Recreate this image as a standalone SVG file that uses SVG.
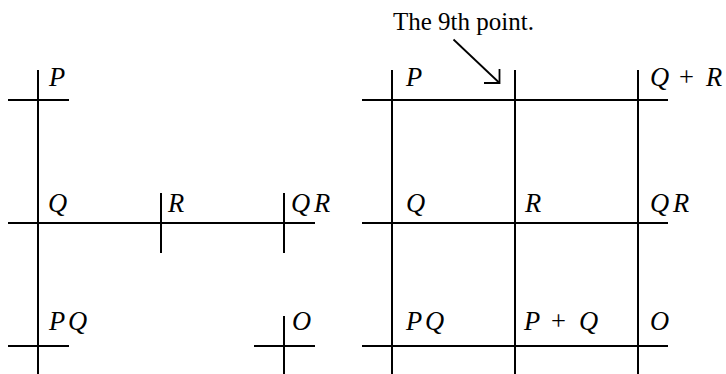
<svg xmlns="http://www.w3.org/2000/svg" width="726" height="374" viewBox="0 0 726 374">
<style>
.ln{stroke:#000;stroke-width:2;fill:none}
.ar{stroke:#000;stroke-width:1.8;fill:none}
.lb{font-family:"Liberation Serif","Times New Roman",serif;font-style:italic;font-size:26.5px;fill:#000}
.up{font-style:normal}
.tt{font-family:"Liberation Serif","Times New Roman",serif;font-size:25px;fill:#000}
</style>
<rect width="726" height="374" fill="#fff"/>
<g id="left-figure">
  <g id="left-lines" class="ln">
    <line x1="38" y1="70" x2="38" y2="374"/>
    <line x1="8" y1="100" x2="69" y2="100"/>
    <line x1="8" y1="223" x2="315" y2="223"/>
    <line x1="8" y1="346" x2="69" y2="346"/>
    <line x1="161" y1="193" x2="161" y2="253"/>
    <line x1="284" y1="193" x2="284" y2="253"/>
    <line x1="284" y1="316" x2="284" y2="374"/>
    <line x1="254" y1="346" x2="315" y2="346"/>
  </g>
  <g id="left-labels" class="lb">
    <text x="49" y="85.5">P</text>
    <text x="48" y="212">Q</text>
    <text x="168" y="212">R</text>
    <text y="212"><tspan x="291">Q</tspan><tspan x="314">R</tspan></text>
    <text y="330"><tspan x="49">P</tspan><tspan x="68">Q</tspan></text>
    <text x="292" y="330">O</text>
  </g>
</g>
<g id="right-figure">
  <g id="right-lines" class="ln">
    <line x1="392" y1="70" x2="392" y2="374"/>
    <line x1="515" y1="70" x2="515" y2="374"/>
    <line x1="638" y1="70" x2="638" y2="374"/>
    <line x1="362" y1="100" x2="668" y2="100"/>
    <line x1="362" y1="223" x2="668" y2="223"/>
    <line x1="362" y1="346" x2="668" y2="346"/>
  </g>
  <g id="right-labels" class="lb">
    <text x="406" y="85.5">P</text>
    <text y="85.5"><tspan x="650">Q</tspan><tspan class="up" x="679">+</tspan><tspan x="706">R</tspan></text>
    <text x="406" y="212">Q</text>
    <text x="525" y="212">R</text>
    <text y="212"><tspan x="650">Q</tspan><tspan x="673">R</tspan></text>
    <text y="330"><tspan x="406">P</tspan><tspan x="425">Q</tspan></text>
    <text y="330"><tspan x="524">P</tspan><tspan class="up" x="551">+</tspan><tspan x="579">Q</tspan></text>
    <text x="650" y="330">O</text>
  </g>
</g>
<g id="annotation">
  <text class="tt" x="393" y="30">The 9th point.</text>
  <g id="connectors" class="ar">
    <line x1="453.5" y1="39.5" x2="499.5" y2="83"/>
    <polyline points="484,83 499.5,83 499.5,69"/>
  </g>
</g>
</svg>
